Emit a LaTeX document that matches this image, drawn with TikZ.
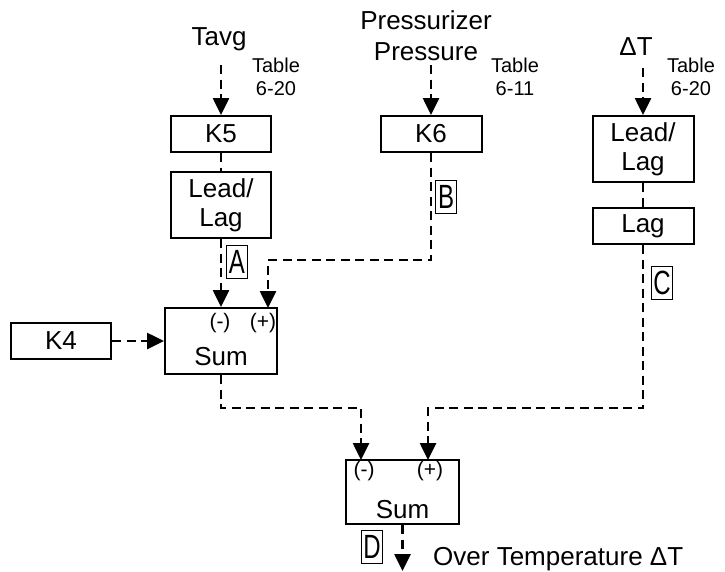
\documentclass[tikz,border=0pt]{standalone}
\usepackage{fontspec}
\setmainfont{Liberation Sans}
\usetikzlibrary{arrows.meta}
\tikzset{
  box/.style={draw, line width=2pt, inner sep=0pt, align=center, font=\fontsize{26}{29}\selectfont},
  dline/.style={line width=2.6pt, dash pattern=on 9pt off 5.5pt},
  arr/.style={-{Triangle[width=16pt,length=17pt]}},
  big/.style={font=\fontsize{26}{31}\selectfont, inner sep=0pt, align=center},
  tbl/.style={font=\fontsize{20}{23}\selectfont, inner sep=0pt, align=center},
  sgn/.style={font=\fontsize{21}{21}\selectfont, inner sep=0pt},
  tag/.style={draw, line width=1.6pt, inner sep=0pt, minimum width=21pt, minimum height=33pt}
}
\newcommand{\tagtext}[1]{\scalebox{1}[1.4]{\fontsize{24}{24}\selectfont #1}}
\begin{document}
\begin{tikzpicture}[x=1pt,y=-1pt]
\useasboundingbox (0,0) rectangle (725,571);
% inputs
\node[big, anchor=base] (tavg) at (219,45) {Tavg};
\node[tbl] (tbl1) at (276,77) {Table\\6-20};
\node[big] (press) at (426,36) {Pressurizer\\Pressure};
\node[tbl] (tbl2) at (515,77) {Table\\6-11};
\node[big, anchor=base] (dt) at (636,55) {ΔT};
\node[tbl] (tbl3) at (691,77) {Table\\6-20};
\coordinate (tavgin) at (221,65);
\coordinate (pressin) at (431,65);
\coordinate (dtin) at (643,68);
% boxes
\node[box, minimum width=100pt, minimum height=36pt] (k5) at (221,134) {K5};
\node[box, minimum width=100pt, minimum height=66pt] (ll1) at (221,205) {Lead/\\Lag};
\node[box, minimum width=101pt, minimum height=36pt] (k6) at (431,134) {K6};
\node[box, minimum width=101pt, minimum height=66pt] (ll2) at (643,149) {Lead/\\Lag};
\node[box, minimum width=101pt, minimum height=36pt] (lag) at (643,226) {Lag};
\node[box, minimum width=100pt, minimum height=36pt] (k4) at (61,341) {K4};
\node[box, minimum width=112pt, minimum height=66pt] (sum1) at (221,341) {};
\node[box, minimum width=113pt, minimum height=64pt] (sum2) at (402.5,492) {};
% texts in sums
\node[big] (sum1t) at (221,357) {Sum};
\node[sgn] (s1m) at (220,323) {(-)};
\node[sgn] (s1pl) at (263,323) {(+)};
\node[big] (sum2t) at (402.5,510) {Sum};
\node[sgn] (s2m) at (364,471) {(-)};
\node[sgn] (s2pl) at (430,471) {(+)};
% tags
\node[tag] (tA) at (237,262) {\tagtext{A}};
\node[tag] (tB) at (446,197) {\tagtext{B}};
\node[tag] (tC) at (662,283) {\tagtext{C}};
\node[tag] (tD) at (372,547) {\tagtext{D}};
\node[big, anchor=base west] (otdt) at (433,565) {Over Temperature ΔT};
% coordinates
\coordinate (b1) at (268,260);
\coordinate (s1p) at (268,308);
\coordinate (b2) at (361,408);
\coordinate (s2min) at (361,460);
\coordinate (b3) at (428,408);
\coordinate (s2pin) at (428,460);
\coordinate (out) at (402.5,571);
% connectors
\draw[dline,arr] (tavgin) -- (k5.north);
\draw[dline] (k5.south) -- (ll1.north);
\draw[dline,arr] (ll1.south) -- (sum1.north);
\draw[dline,arr] (pressin) -- (k6.north);
\draw[dline,arr] (k6.south) |- (b1) -- (s1p);
\draw[dline,arr] (k4.east) -- (sum1.west);
\draw[dline,arr] (dtin) -- (ll2.north);
\draw[dline] (ll2.south) -- (lag.north);
\draw[dline,arr] (lag.south) |- (b3) -- (s2pin);
\draw[dline,arr] (sum1.south) |- (b2) -- (s2min);
\draw[dline,arr] (sum2.south) -- (out);
\end{tikzpicture}
\end{document}
